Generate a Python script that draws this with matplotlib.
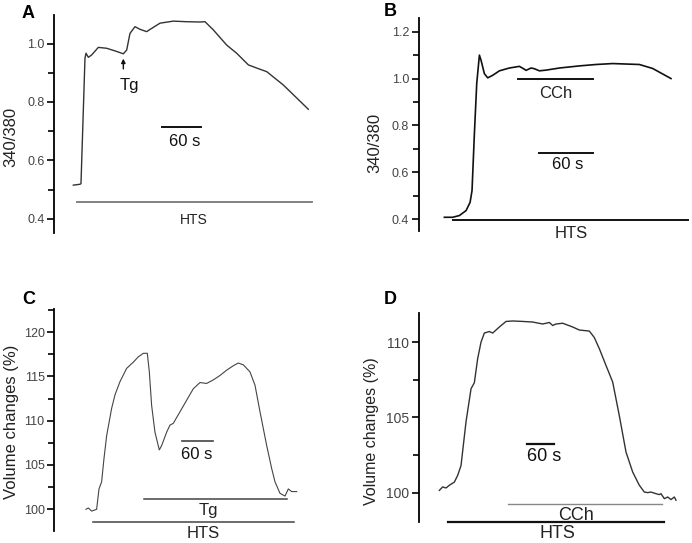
import numpy as np
import matplotlib.pyplot as plt
from matplotlib.ticker import MultipleLocator

plt.rcParams['font.family'] = ['Liberation Sans', 'DejaVu Sans']

# ---- panel A: 340/380 ratio, HTS then Tg (time in s) ----
A_T = [0, 10.3, 11.9, 18.1, 19.7, 23.3, 28.4, 38.8, 51.7, 64.7, 77.6, 82.8, 87.9, 95.7,
       103.4, 113.8, 121.5, 134.5, 155.2, 175.9, 196.6, 204.3, 217.2, 237.9, 253.4,
       271.6, 289.7, 300.0, 325.9, 364.6]
A_Y = [0.515, 0.518, 0.52, 0.95, 0.967, 0.953, 0.961, 0.987, 0.984, 0.975, 0.965, 0.978,
       1.035, 1.058, 1.049, 1.041, 1.052, 1.070, 1.077, 1.075, 1.074, 1.075, 1.047, 0.995,
       0.967, 0.927, 0.912, 0.904, 0.858, 0.775]

# ---- panel B: 340/380 ratio, HTS then CCh ----
B_T = [0, 9.4, 16.9, 24.4, 28.9, 31.1, 33.75, 36.4, 39.4, 41.25, 45.0, 48.75, 54.4, 61.9,
       73.1, 84.4, 90.0, 91.9, 97.5, 101.25, 106.9, 114.4, 129.4, 151.9, 170.6, 189.4,
       219.4, 234.4, 255.0]
B_Y = [0.4085, 0.4085, 0.416, 0.437, 0.472, 0.522, 0.764, 0.979, 1.10, 1.078, 1.021, 1.003,
       1.014, 1.033, 1.045, 1.052, 1.040, 1.035, 1.045, 1.042, 1.033, 1.036, 1.045, 1.054,
       1.060, 1.064, 1.060, 1.043, 1.000]

# ---- panel C: volume (%), HTS then Tg ----
C_T = [0, 4.5, 11.0, 20.6, 25.2, 30.3, 34.8, 40.0, 49.7, 56.1, 65.8, 78.7, 91.6, 101.3,
       111.0, 118.7, 122.6, 127.1, 133.5, 141.9, 146.5, 156.1, 162.6, 169.0, 181.9, 194.8,
       207.7, 220.6, 233.5, 246.5, 259.4, 272.3, 285.2, 294.8, 304.5, 317.4, 327.1, 336.8,
       349.7, 359.4, 365.8, 375.5, 385.2, 391.6, 398.1, 407.8]
C_Y = [100.0, 100.15, 99.8, 100.0, 102.3, 103.1, 105.7, 108.3, 111.4, 112.9, 114.4, 115.9,
       116.6, 117.2, 117.6, 117.6, 115.5, 111.7, 108.7, 106.7, 107.2, 108.7, 109.5, 109.7,
       111.0, 112.3, 113.6, 114.3, 114.2, 114.6, 115.1, 115.7, 116.2, 116.5, 116.3, 115.5,
       114.0, 111.0, 107.2, 104.6, 103.1, 101.8, 101.5, 102.3, 102.0, 102.0]

# ---- panel D: volume (%), HTS then CCh ----
D_T = [0, 7.2, 14.5, 21.7, 32.5, 39.8, 47.0, 57.8, 68.7, 75.9, 83.1, 90.4, 97.6, 108.4,
       115.7, 130.1, 144.6, 159.0, 180.7, 202.4, 224.1, 238.6, 245.8, 253.0, 267.5, 289.2,
       303.6, 325.3, 336.1, 347.0, 361.4, 375.9, 390.4, 404.8, 419.3, 433.7, 444.6, 451.8,
       459.0, 469.9, 477.1, 480.7, 488.0, 495.2, 502.4, 509.6, 513.3]
D_Y = [100.15, 100.38, 100.31, 100.49, 100.7, 101.15, 101.8, 104.7, 106.9, 107.3, 108.9,
       110.0, 110.6, 110.7, 110.6, 111.0, 111.37, 111.4, 111.37, 111.33, 111.2, 111.3, 111.1,
       111.2, 111.25, 111.0, 110.8, 110.73, 110.3, 109.56, 108.45, 107.35, 105.1, 102.7,
       101.37, 100.49, 100.04, 100.0, 100.04, 99.93, 99.87, 99.93, 99.6, 99.71, 99.54,
       99.71, 99.5]

# treatment bars: (t_start, t_end, level, label, label_t, label_y)
A_HTS = (5.2, 369.8, 0.458, 'HTS', 186.2, 0.395)
B_HTS = (9.4, 273.75, 0.397, 'HTS', 142.5, 0.340)
B_CCH = (82.5, 166.9, 0.997, 'CCh', 125.6, 0.937)
C_HTS = (12.9, 402.6, 98.57, 'HTS', 227.1, 97.26)
C_TG = (112.3, 389.7, 101.2, 'Tg', 236.8, 99.89)
D_HTS = (18.1, 488.0, 98.05, 'HTS', 256.6, 97.28)
D_CCH = (148.2, 482.9, 99.23, 'CCh', 296.4, 98.50)

# 60 s scale bars: (t_start, level, text_t, text_y)
A_BAR = (138.1, 0.713, 173.3, 0.664)
B_BAR = (106.9, 0.681, 138.75, 0.632)
C_BAR = (185.2, 107.67, 214.2, 106.17)
D_BAR = (189.4, 103.25, 226.3, 102.43)

W, H = 692, 543
fig = plt.figure(figsize=(W / 100, H / 100), dpi=100)


def px_axes(left, right, top, bottom):
    return fig.add_axes([left / W, 1 - bottom / H, (right - left) / W, (bottom - top) / H])


def style(ax, xlim, ylim, major, minor, fs):
    ax.set_xlim(*xlim)
    ax.set_ylim(*ylim)
    for s in ['top', 'right', 'bottom']:
        ax.spines[s].set_visible(False)
    ax.spines['left'].set_linewidth(1.3)
    ax.set_xticks([])
    ax.yaxis.set_major_locator(MultipleLocator(major))
    ax.yaxis.set_minor_locator(MultipleLocator(minor))
    ax.tick_params(axis='y', which='major', length=5, width=1.2, labelsize=fs,
                   labelcolor='#444444', pad=2)
    ax.tick_params(axis='y', which='minor', length=4, width=1.2)
    ax.patch.set_alpha(0)


def bar(ax, spec, color, lw, fs):
    t0, t1, y, lab, lt, ly = spec
    ax.plot([t0, t1], [y, y], color=color, lw=lw, clip_on=False)
    ax.text(lt, ly, lab, ha='center', va='center', fontsize=fs, color='#222222', clip_on=False)


def scale(ax, spec, color, lw, fs):
    t0, y, lt, ly = spec
    ax.plot([t0, t0 + 60], [y, y], color=color, lw=lw)
    ax.text(lt, ly, '60 s', ha='center', va='center', fontsize=fs, color='#111111')


def label(x, y, s, **kw):
    fig.text(x / W, 1 - y / H, s, ha='center', va='center', **kw)


# A
axA = px_axes(54.3, 320, 15, 233.3)
style(axA, (-29.5, 382.7), (0.35, 1.098), 0.2, 0.1, 9)
axA.yaxis.set_major_formatter(lambda v, p: f'{v:.1f}')
axA.plot(A_T, A_Y, color='#333333', lw=1.0)
bar(axA, A_HTS, '#777777', 1.3, 10)
axA.annotate('', xy=(77.6, 0.958), xytext=(77.6, 0.904),
             arrowprops=dict(arrowstyle='-|>', color='#111111', lw=1.0, mutation_scale=6))
axA.text(86.9, 0.858, 'Tg', ha='center', va='center', fontsize=12, color='#111111')
scale(axA, A_BAR, '#111111', 1.4, 12)

# B
axB = px_axes(418.7, 691, 18.3, 231)
style(axB, (-28.9, 277.5), (0.35, 1.257), 0.2, 0.1, 9)
axB.yaxis.set_major_formatter(lambda v, p: f'{v:.1f}')
axB.plot(B_T, B_Y, color='#111111', lw=1.2)
bar(axB, B_HTS, '#111111', 1.4, 12)
bar(axB, B_CCH, '#111111', 1.4, 12)
scale(axB, B_BAR, '#111111', 1.4, 12)

# C
axC = px_axes(54.3, 320, 308.7, 531.3)
style(axC, (-61.3, 452.9), (97.52, 122.63), 5, 2.5, 9)
axC.plot(C_T, C_Y, color='#444444', lw=0.8)
bar(axC, C_TG, '#444444', 1.1, 12)
bar(axC, C_HTS, '#444444', 1.1, 12)
scale(axC, C_BAR, '#444444', 1.2, 12)

# D
axD = px_axes(418.7, 691, 312.7, 522)
style(axD, (-44.8, 545.8), (98.05, 111.95), 5, 2.5, 10)
axD.plot(D_T, D_Y, color='#333333', lw=1.0)
bar(axD, D_CCH, '#888888', 1.0, 13)
bar(axD, D_HTS, '#111111', 1.6, 13)
scale(axD, D_BAR, '#111111', 1.6, 13)

# panel letters and y labels
for x, y, s in [(28, 13, 'A'), (390.5, 12, 'B'), (28.5, 299, 'C'), (390.5, 299, 'D')]:
    label(x, y, s, fontsize=13, fontweight='bold')
label(11, 137, '340/380', rotation=90, fontsize=12, color='#222222')
label(375, 142.5, '340/380', rotation=90, fontsize=12, color='#222222')
label(12, 422, 'Volume changes (%)', rotation=90, fontsize=12, color='#222222')
label(371, 431, 'Volume changes (%)', rotation=90, fontsize=11.5, color='#222222')

fig.savefig('out.png', dpi=100)
